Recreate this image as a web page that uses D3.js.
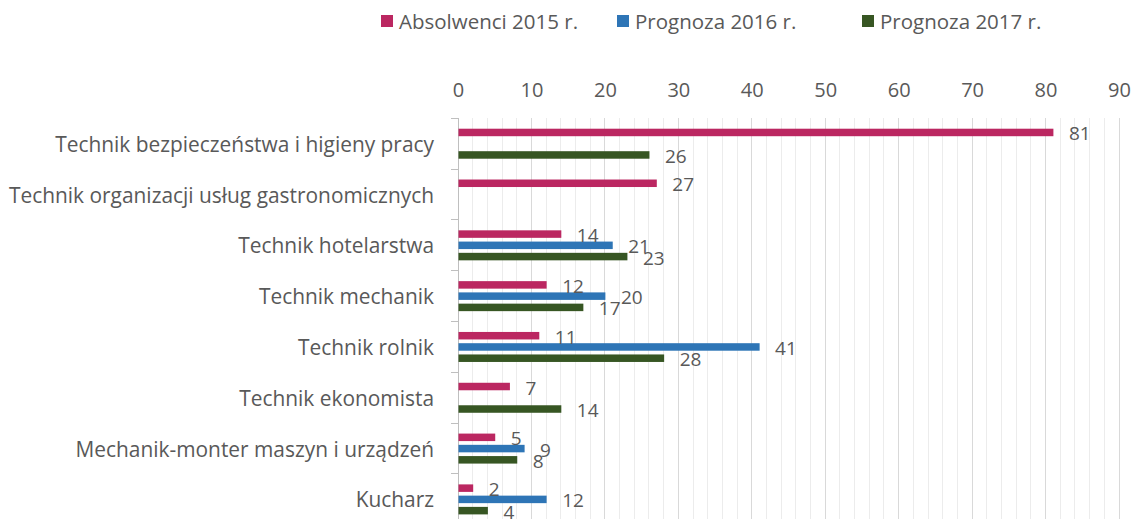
<!DOCTYPE html>
<html>
<head>
<meta charset="utf-8">
<script src="https://cdn.jsdelivr.net/npm/d3@7"></script>
<style>
  html, body { margin: 0; padding: 0; background: #ffffff; }
  svg { display: block; }
  text { font-family: "Open Sans", "Noto Sans", sans-serif; fill: #595959; }
</style>
</head>
<body>
<svg id="chart" width="1133" height="519"></svg>
<script>
// Professions, top to bottom
const categories = [
  "Technik bezpieczeństwa i higieny pracy",
  "Technik organizacji usług gastronomicznych",
  "Technik hotelarstwa",
  "Technik mechanik",
  "Technik rolnik",
  "Technik ekonomista",
  "Mechanik-monter maszyn i urządzeń",
  "Kucharz"
];
const seriesNames = ["Absolwenci 2015 r.", "Prognoza 2016 r.", "Prognoza 2017 r."];
const seriesColors = ["#bb2761", "#2e75b6", "#375623"];
// null = no bar for that profession
const absolwenci2015 = [81, 27, 14, 12, 11, 7, 5, 2];
const prognoza2016   = [null, null, 21, 20, 41, null, 9, 12];
const prognoza2017   = [26, null, 23, 17, 28, 14, 8, 4];
const xTicks = [0, 10, 20, 30, 40, 50, 60, 70, 80, 90];
const xMinorTicks = d3.range(0, 91, 2);

const seriesValues = [absolwenci2015, prognoza2016, prognoza2017];

const svg = d3.select("#chart");
const plot = { left: 458, right: 1119, top: 118.3, bottom: 524.8 };

const x = d3.scaleLinear().domain([0, 90]).range([plot.left, plot.right]);
const y = d3.scaleBand().domain(categories).range([plot.top, plot.bottom]).padding(0);
const ySeries = d3.scaleBand().domain(d3.range(3)).range([0, y.bandwidth()])
  .paddingInner(0.333).paddingOuter(0.925);

// Gridlines: light minor every 2, darker major every 10
svg.append("g").selectAll("line.minor")
  .data(xMinorTicks.filter(d => d % 10 !== 0))
  .join("line")
  .attr("x1", d => x(d)).attr("x2", d => x(d))
  .attr("y1", plot.top).attr("y2", plot.bottom)
  .attr("stroke", "#ececec").attr("stroke-width", 1).attr("shape-rendering", "crispEdges");

svg.append("g").selectAll("line.major")
  .data(xTicks.filter(d => d !== 0))
  .join("line")
  .attr("x1", d => x(d)).attr("x2", d => x(d))
  .attr("y1", plot.top).attr("y2", plot.bottom)
  .attr("stroke", "#d9d9d9").attr("stroke-width", 1).attr("shape-rendering", "crispEdges");

// Top value axis (labels only)
const xAxis = d3.axisTop(x).tickValues(xTicks).tickSize(0).tickPadding(0).tickFormat(d3.format("d"));
const gx = svg.append("g").attr("transform", `translate(0, 97)`).call(xAxis);
gx.select(".domain").remove();
gx.selectAll("text").style("font-size", "20px").attr("fill", "#595959")
  .style("font-family", "'Open Sans', sans-serif");

// Left category axis with boundary ticks
const boundaries = categories.map(c => y(c)).concat([plot.bottom]);
const gy = svg.append("g");
gy.append("line")
  .attr("x1", plot.left).attr("x2", plot.left)
  .attr("y1", plot.top).attr("y2", plot.bottom)
  .attr("stroke", "#bfbfbf").attr("shape-rendering", "crispEdges");
gy.selectAll("line.tick").data(boundaries).join("line")
  .attr("x1", plot.left - 7).attr("x2", plot.left)
  .attr("y1", d => d).attr("y2", d => d)
  .attr("stroke", "#bfbfbf").attr("shape-rendering", "crispEdges");
gy.selectAll("text").data(categories).join("text")
  .attr("x", 434)
  .attr("y", d => y(d) + y.bandwidth() / 2)
  .attr("text-anchor", "end")
  .attr("dominant-baseline", "central")
  .style("font-size", "20.9px")
  .text(d => d);

// Bars and value labels
const barData = [];
seriesValues.forEach((vals, si) => {
  vals.forEach((v, ci) => {
    if (v !== null) barData.push({ s: si, cat: categories[ci], v });
  });
});

svg.append("g").selectAll("rect").data(barData).join("rect")
  .attr("x", x(0) + 0.5)
  .attr("y", d => y(d.cat) + ySeries(d.s))
  .attr("width", d => x(d.v) - x(0))
  .attr("height", ySeries.bandwidth())
  .attr("fill", d => seriesColors[d.s]);

svg.append("g").selectAll("text").data(barData).join("text")
  .attr("x", d => x(d.v) + 16)
  .attr("y", d => y(d.cat) + ySeries(d.s) + ySeries.bandwidth() / 2 + 1)
  .attr("dominant-baseline", "central")
  .style("font-size", "19px")
  .attr("fill", "#404040")
  .text(d => d.v);

// Legend
const legendX = [381, 617, 862];
const legend = svg.append("g").selectAll("g").data(seriesNames).join("g")
  .attr("transform", (d, i) => `translate(${legendX[i]}, 21)`);
legend.append("rect").attr("x", 0).attr("y", -6).attr("width", 12).attr("height", 12)
  .attr("fill", (d, i) => seriesColors[i]);
legend.append("text").attr("x", 18).attr("y", 0)
  .attr("dominant-baseline", "central")
  .style("font-size", "20.5px")
  .text(d => d);
</script>
</body>
</html>
